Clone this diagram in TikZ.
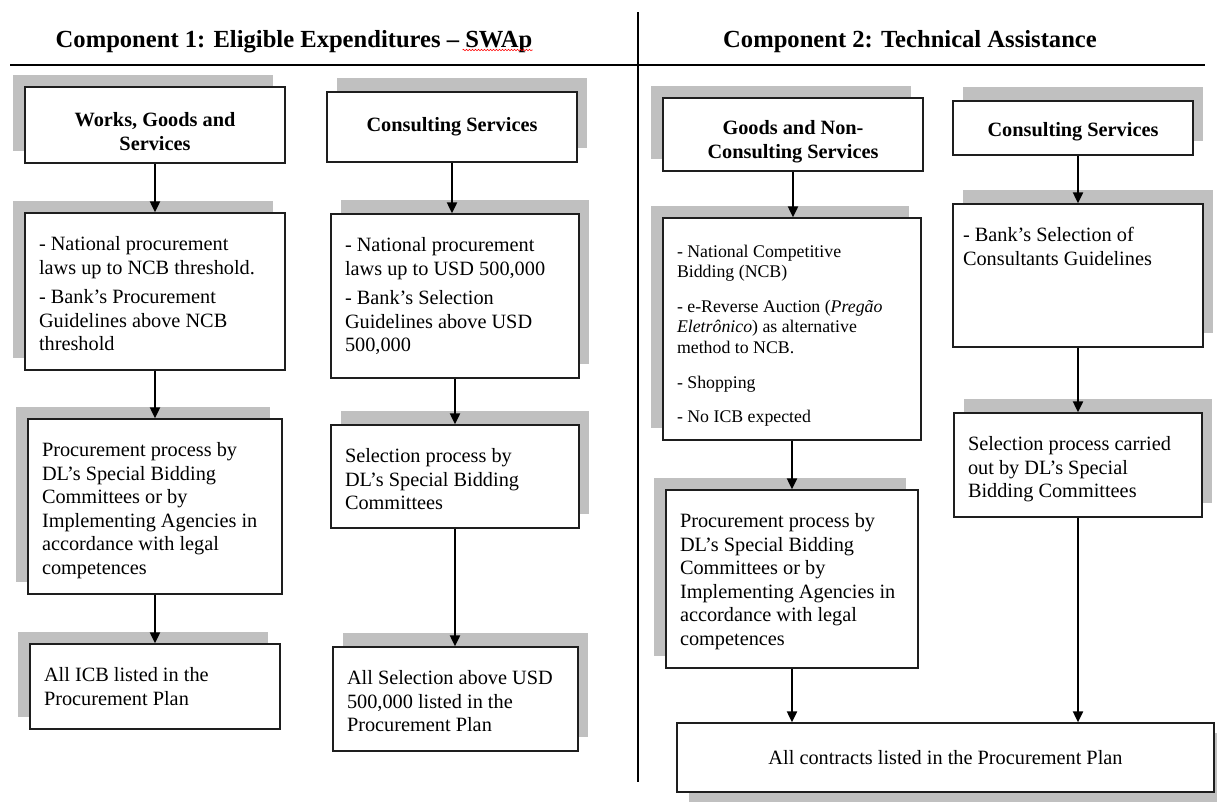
\documentclass[tikz,border=0pt]{standalone}
\usepackage{fontspec}
\setmainfont{Liberation Serif}
\usetikzlibrary{arrows.meta,shadows,decorations.pathmorphing}
\definecolor{shadowgray}{RGB}{192,192,192}
\definecolor{boxline}{RGB}{30,30,30}
\tikzset{
 bx/.style={draw=boxline, line width=1.3pt, fill=white, inner xsep=14pt, inner ysep=0pt, font=\fontsize{20.3}{23.6}\selectfont},
 shUL/.style={drop shadow={shadow xshift=-12pt, shadow yshift=12pt, fill=shadowgray, opacity=1}},
 shUR/.style={drop shadow={shadow xshift=10pt, shadow yshift=14pt, fill=shadowgray, opacity=1}},
 shDR/.style={drop shadow={shadow xshift=12pt, shadow yshift=-10pt, fill=shadowgray, opacity=1}},
 headtitle/.style={font=\bfseries\fontsize{24.6}{28}\selectfont, inner sep=0pt, anchor=base},
 hd/.style={font=\bfseries\fontsize{20.3}{23.6}\selectfont, align=center},
 smalltext/.style={font=\fontsize{17.8}{20.8}\selectfont},
 flowarrow/.style={line width=2pt, -{Triangle[width=10pt,length=11pt]}},
 seprule/.style={line width=2.2pt},
}
\newcommand\toppad{\vspace*{21pt}\strut\setlength\parskip{6pt}}
\newcommand\toppadsmall{\vspace*{24.5pt}\strut\setlength\parskip{13.5pt}}
\newcommand\flowbox[7]{%
 \pgfmathsetmacro\fbw{#4-#2}\pgfmathsetmacro\fbh{#5-#3}%
 \node[bx,#6,minimum width=\fbw pt,minimum height=\fbh pt] (#1) at ({(#2+#4)/2},{(#3+#5)/2})
  {\parbox[b][\fbh pt][t]{\dimexpr\fbw pt-28pt\relax}{#7}};}
\newcommand\headbox[7]{%
 \pgfmathsetmacro\fbw{#4-#2}\pgfmathsetmacro\fbh{#5-#3}%
 \node[bx,align=center,#6,minimum width=\fbw pt,minimum height=\fbh pt] (#1) at ({(#2+#4)/2},{(#3+#5)/2}) {#7};}
\begin{document}
\begin{tikzpicture}[x=1pt,y=-1pt]
\useasboundingbox[fill=white] (0,0) rectangle (1217,801);
% headings
\node[headtitle] (h1) at (294,47) {Component 1: Eligible Expenditures – SWAp};
\node[headtitle] (h2) at (910,47) {Component 2: Technical Assistance};
\draw[red, line width=0.6pt, decorate, decoration={snake, amplitude=0.7pt, segment length=3pt}]
  ([xshift=-70pt,yshift=-3pt]h1.base east) -- ([yshift=-3pt]h1.base east);
\coordinate (ruleL) at (10,65);
\coordinate (ruleR) at (1205,65);
\coordinate (vT) at (638,12);
\coordinate (vB) at (638,782);
\draw[seprule] (ruleL) -- (ruleR);
\draw[line width=2pt] (vT) -- (vB);
% column A
\headbox{A1}{25}{87}{285}{163}{shUL,hd}{\rule{0pt}{27pt}Works, Goods and\\Services}
\flowbox{A2}{25}{213}{285}{370}{shUL}{\toppad - National procurement\\laws up to NCB threshold.\par - Bank’s Procurement\\Guidelines above NCB\\threshold}
\flowbox{A3}{28}{419}{282}{594}{shUL}{\toppad Procurement process by\\DL’s Special Bidding\\Committees or by\\Implementing Agencies in\\accordance with legal\\competences}
\flowbox{A4}{30}{644}{280}{729}{shUL}{\toppad All ICB listed in the\\Procurement Plan}
% column B
\headbox{B1}{327}{92}{577}{162}{shUR,hd}{Consulting Services}
\flowbox{B2}{331}{214}{579}{378}{shUR}{\toppad - National procurement\\laws up to USD 500,000\par - Bank’s Selection\\Guidelines above USD\\500,000}
\flowbox{B3}{331}{425}{579}{528}{shUR}{\toppad Selection process by\\DL’s Special Bidding\\Committees}
\flowbox{B4}{333}{647}{578}{751}{shUR}{\toppad All Selection above USD\\500,000 listed in the\\Procurement Plan}
% column C
\headbox{C1}{663}{98}{923}{171}{shUL,hd}{\rule{0pt}{28pt}Goods and Non-\\Consulting Services}
\flowbox{C2}{663}{218}{921}{440}{shUL,smalltext}{\toppadsmall - National Competitive\\Bidding (NCB)\par - e-Reverse Auction (\textit{Pregão}\\\textit{Eletrônico}) as alternative\\method to NCB.\par - Shopping\par - No ICB expected}
\flowbox{C3}{666}{490}{918}{668}{shUL}{\toppad Procurement process by\\DL’s Special Bidding\\Committees or by\\Implementing Agencies in\\accordance with legal\\competences}
\headbox{C4}{677}{723}{1214}{792}{shDR}{All contracts listed in the Procurement Plan}
% column D
\headbox{D1}{953}{101}{1193}{155}{shUR,hd}{\rule{0pt}{22pt}Consulting Services}
\flowbox{D2}{953}{204}{1203}{347}{shUR}{\toppad\hspace*{-4pt}- Bank’s Selection of\\\hspace*{-4pt}Consultants Guidelines}
\flowbox{D3}{954}{413}{1202}{517}{shUR}{\toppad Selection process carried\\out by DL’s Special\\Bidding Committees}
% arrows
\draw[flowarrow] (A1.south) -- (A1.south |- A2.north);
\draw[flowarrow] (A2.south) -- (A2.south |- A3.north);
\draw[flowarrow] (A3.south) -- (A3.south |- A4.north);
\draw[flowarrow] (B1.south) -- (B1.south |- B2.north);
\draw[flowarrow] (B2.south) -- (B2.south |- B3.north);
\draw[flowarrow] (B3.south) -- (B3.south |- B4.north);
\draw[flowarrow] (C1.south) -- (C1.south |- C2.north);
\draw[flowarrow] (C2.south) -- (C2.south |- C3.north);
\draw[flowarrow] (C3.south) -- (C3.south |- C4.north);
\draw[flowarrow] (D2.north |- D1.south) -- (D2.north);
\draw[flowarrow] (D2.south) -- (D2.south |- D3.north);
\draw[flowarrow] (D3.south) -- (D3.south |- C4.north);
\end{tikzpicture}
\end{document}
